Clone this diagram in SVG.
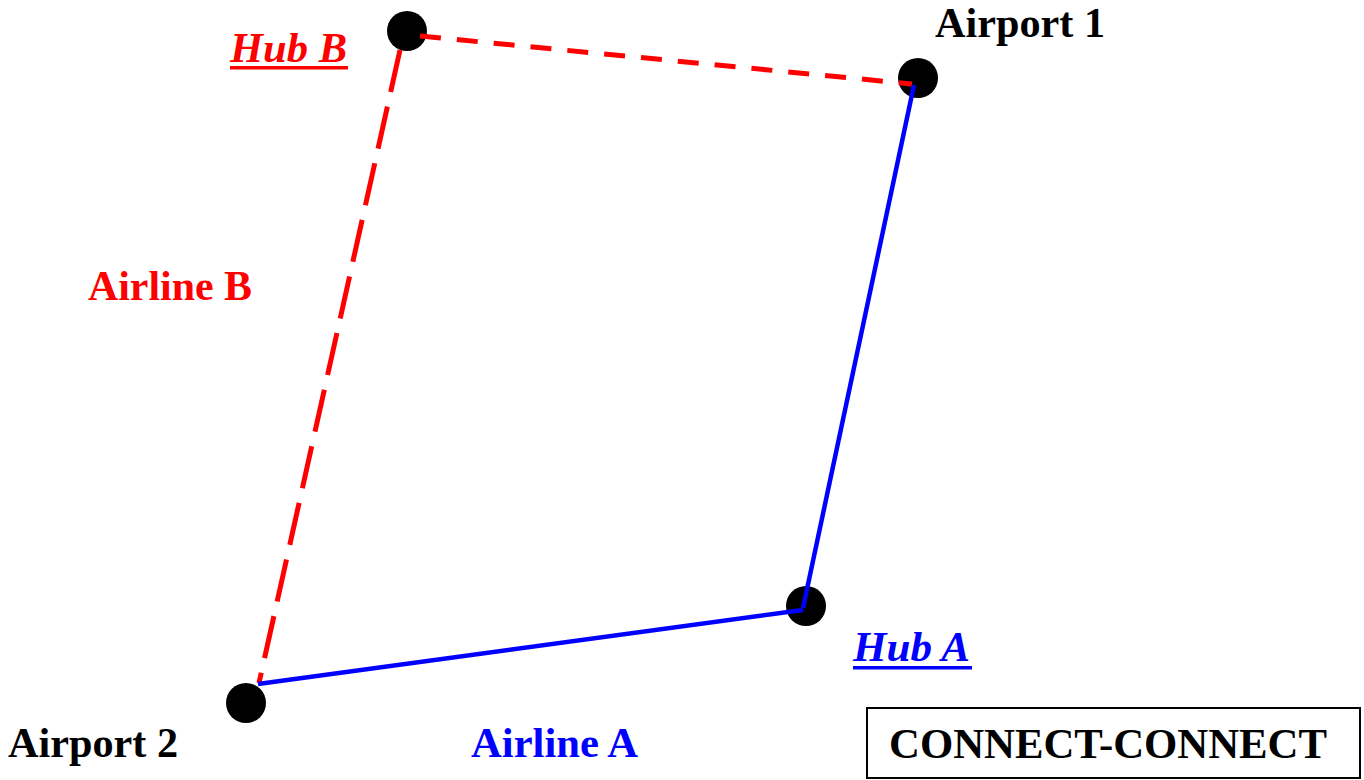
<svg xmlns="http://www.w3.org/2000/svg" width="1364" height="780" viewBox="0 0 1364 780">
<style>
.lbl{font-family:"Liberation Serif","Times New Roman",serif;font-weight:bold;font-size:42px}
.hub{font-style:italic}
.node{fill:#000}
.a{stroke:#0000ff;stroke-width:4.5;fill:none}
.b{stroke:#ff0000;stroke-width:5;fill:none}
.b1{stroke-dasharray:21 16}
.b2{stroke-dasharray:43 15}
</style>
<rect width="1364" height="780" fill="#fff"/>
<g id="hubB"><circle class="node" cx="407" cy="31" r="20"/><text class="lbl hub" x="230" y="62" fill="#ff0000" textLength="117" lengthAdjust="spacingAndGlyphs">Hub B</text><rect x="230" y="66" width="118" height="3.5" fill="#ff0000"/></g>
<g id="airport1"><circle class="node" cx="918" cy="78" r="20"/><text class="lbl" x="935" y="37" fill="#000" textLength="170" lengthAdjust="spacingAndGlyphs">Airport 1</text></g>
<g id="hubA"><circle class="node" cx="806" cy="606" r="20"/><text class="lbl hub" x="853" y="661" fill="#0000ff" textLength="117" lengthAdjust="spacingAndGlyphs">Hub A</text><rect x="853" y="666" width="119" height="3.5" fill="#0000ff"/></g>
<g id="airport2"><circle class="node" cx="246" cy="703" r="20"/><text class="lbl" x="8" y="757" fill="#000" textLength="170" lengthAdjust="spacingAndGlyphs">Airport 2</text></g>
<g id="connectors">
<path class="b b1" d="M420,36 L912,84"/>
<path class="b b2" d="M400,50 L259,683"/>
<path class="a" d="M258,684 L803,610"/>
<path class="a" d="M803,608 L914,85"/>
</g>
<g id="labels">
<text class="lbl" x="88" y="300" fill="#ff0000" textLength="164" lengthAdjust="spacingAndGlyphs">Airline B</text>
<text class="lbl" x="471" y="757" fill="#0000ff" textLength="167" lengthAdjust="spacingAndGlyphs">Airline A</text>
</g>
<g id="title"><rect x="867" y="708" width="493" height="70" fill="none" stroke="#000" stroke-width="2"/><text class="lbl" x="889" y="758" fill="#000" textLength="438" lengthAdjust="spacingAndGlyphs">CONNECT-CONNECT</text></g>
</svg>
